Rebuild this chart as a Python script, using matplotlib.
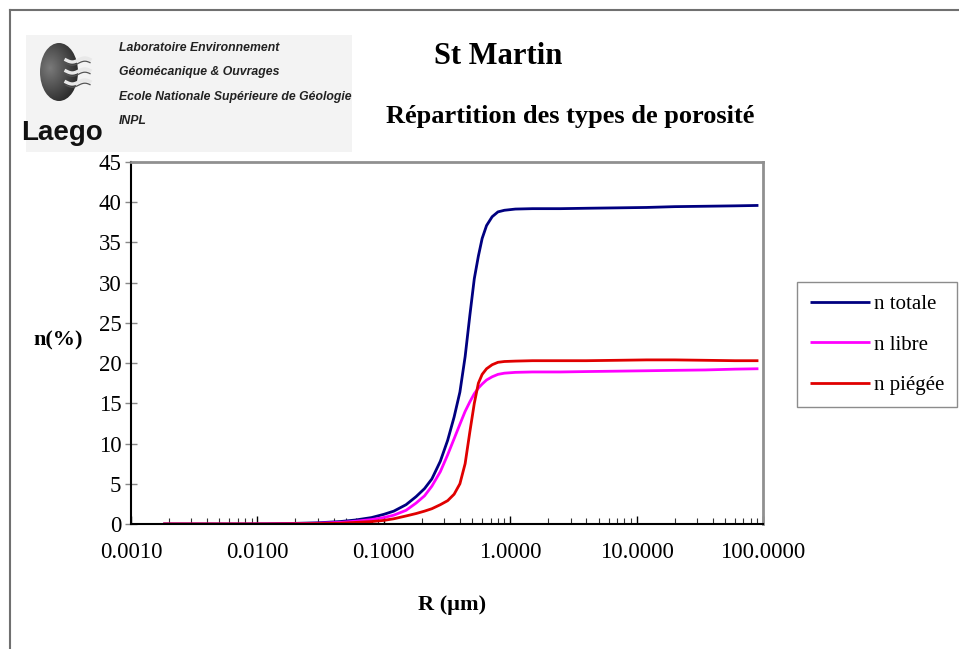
"""
St Martin - repartition des types de porosite (n totale / libre / piegee vs R).
"""
import numpy as np
import matplotlib.pyplot as plt
from matplotlib.patches import Ellipse, Rectangle
from matplotlib.ticker import LogLocator, FixedLocator, FixedFormatter, NullFormatter

# ---------------------------------------------------------------------------
# Data
# ---------------------------------------------------------------------------
r_um = [0.0018, 0.003, 0.005, 0.008, 0.012, 0.02, 0.03, 0.045, 0.06, 0.08,
        0.1, 0.12, 0.15, 0.18, 0.21, 0.24, 0.28, 0.32, 0.36, 0.40,
        0.44, 0.48, 0.52, 0.56, 0.60, 0.65, 0.72, 0.80, 0.9, 1.1,
        1.5, 2.5, 4, 7, 12, 20, 35, 60, 92]

n_totale = [0, 0, 0, 0, 0.02, 0.08, 0.15, 0.3, 0.5, 0.8,
            1.2, 1.6, 2.4, 3.4, 4.4, 5.6, 7.8, 10.4, 13.3, 16.4,
            20.8, 26.0, 30.5, 33.3, 35.5, 37.1, 38.2, 38.8, 39.0, 39.15,
            39.2, 39.2, 39.25, 39.3, 39.35, 39.45, 39.5, 39.55, 39.6]

n_libre = [0, 0, 0, 0, 0.01, 0.05, 0.1, 0.2, 0.35, 0.55,
           0.8, 1.1, 1.7, 2.6, 3.5, 4.7, 6.5, 8.6, 10.6, 12.4,
           14.0, 15.2, 16.2, 16.9, 17.4, 17.9, 18.3, 18.6, 18.75, 18.85,
           18.9, 18.9, 18.95, 19.0, 19.05, 19.1, 19.15, 19.25, 19.3]

n_piegee = [0, 0, 0, 0, 0, 0.02, 0.05, 0.1, 0.2, 0.3,
            0.45, 0.65, 1.0, 1.3, 1.6, 1.9, 2.4, 2.9, 3.7, 5.0,
            7.5, 11.5, 15.0, 17.5, 18.6, 19.3, 19.8, 20.1, 20.2, 20.25,
            20.3, 20.3, 20.3, 20.35, 20.4, 20.4, 20.35, 20.3, 20.3]

series_names = ["n totale", "n libre", "n piégée"]
series_colors = ["#000080", "#FF00FF", "#E00000"]

x_ticks = [0.001, 0.01, 0.1, 1, 10, 100]
x_ticklabels = ["0.0010", "0.0100", "0.1000", "1.0000", "10.0000", "100.0000"]
y_ticks = list(range(0, 46, 5))

logo_lines = ["Laboratoire Environnement", "Géomécanique & Ouvrages",
              "Ecole Nationale Supérieure de Géologie", "INPL"]

# ---------------------------------------------------------------------------
# Figure
# ---------------------------------------------------------------------------
W, H = 959, 649
fig = plt.figure(figsize=(W / 100, H / 100), dpi=100)
SERIF = ["Liberation Serif", "DejaVu Serif"]
NARROW = ["Liberation Sans Narrow", "DejaVu Sans Condensed", "Liberation Sans"]


def fx(x):
    return x / W


def fy(y):
    return 1 - y / H


# page frame (left and top edges only visible)
fig.add_artist(plt.Line2D([fx(10), fx(10)], [fy(10), 0], color="#707070", lw=1.5))
fig.add_artist(plt.Line2D([fx(10), 1], [fy(10), fy(10)], color="#707070", lw=1.5))

# logo block, drawn in its own pixel-coordinate axes
lax = fig.add_axes([fx(26), fy(152), fx(352 - 26), (152 - 35) / H])
lax.set_xlim(26, 352)
lax.set_ylim(152, 35)
lax.axis("off")
lax.add_patch(Rectangle((26, 35), 326, 117, facecolor="#f3f3f3", edgecolor="none", zorder=0))
gx, gy = np.meshgrid(np.linspace(36, 84, 120), np.linspace(40, 104, 160))
d = np.sqrt(((gx - 50) / 34) ** 2 + ((gy - 68) / 44) ** 2)
shade = 0.48 - 0.36 * np.clip(d, 0, 1)
img = lax.imshow(shade, extent=(36, 84, 104, 40), cmap="gray", vmin=0, vmax=1,
                 aspect="auto", origin="upper", zorder=1)
sphere = Ellipse((59, 72), 38, 58, facecolor="none", edgecolor="none")
lax.add_patch(sphere)
img.set_clip_path(sphere)
for yy in [60, 71, 82]:
    xs = np.linspace(66, 90, 30)
    lax.plot(xs, yy + 2.0 * np.sin((xs - 66) / 4.0), color="#e8e8e8", lw=2.4, zorder=2)
    lax.plot(xs, yy + 3.2 + 2.0 * np.sin((xs - 66) / 4.0), color="#555555", lw=0.9, zorder=2)
lax.text(62, 133, "Laego", family=NARROW, fontweight="bold", fontsize=20,
         ha="center", va="center", color="#111111", zorder=3)

for i, line in enumerate(logo_lines):
    lax.text(119, 48 + 24.5 * i, line, family=NARROW, fontweight="bold",
             style="italic", fontsize=8.8, ha="left", va="center", color="#222222", zorder=3)

# titles
fig.text(fx(498), fy(57), "St Martin", family=SERIF, fontweight="bold", fontsize=22,
         ha="center", va="center")
fig.text(fx(570), fy(116), "Répartition des types de porosité", family=SERIF,
         fontweight="bold", fontsize=19, ha="center", va="center")

# main axes
ax = fig.add_axes([fx(131), fy(524), (763 - 131) / W, (524 - 162) / H])
for y, name, col in zip([n_totale, n_libre, n_piegee], series_names, series_colors):
    ax.plot(r_um, y, color=col, lw=2.0, label=name, solid_capstyle="butt")

ax.set_xscale("log")
ax.set_xlim(0.001, 100)
ax.set_ylim(0, 45)
ax.xaxis.set_major_locator(FixedLocator(x_ticks))
ax.xaxis.set_major_formatter(FixedFormatter(x_ticklabels))
ax.xaxis.set_minor_locator(LogLocator(base=10, subs=np.arange(2, 10), numticks=20))
ax.xaxis.set_minor_formatter(NullFormatter())
ax.set_yticks(y_ticks)

ax.tick_params(axis="x", which="major", direction="in", length=6, width=1.0,
               color="black", pad=13, labelsize=16.5)
ax.tick_params(axis="x", which="minor", direction="in", length=4, width=0.8, color="#333333")
ax.tick_params(axis="y", direction="inout", length=8, width=1.0, color="#888888",
               pad=3, labelsize=16.5)
for lab in ax.get_xticklabels() + ax.get_yticklabels():
    lab.set_family(SERIF)

ax.spines["left"].set_color("black")
ax.spines["bottom"].set_color("black")
ax.spines["left"].set_linewidth(1.5)
ax.spines["bottom"].set_linewidth(1.5)
ax.spines["top"].set_color("#909090")
ax.spines["right"].set_color("#909090")
ax.spines["top"].set_linewidth(2.0)
ax.spines["right"].set_linewidth(2.0)

fig.text(fx(58), fy(340), "n(%)", family=SERIF, fontweight="bold", fontsize=16,
         ha="center", va="center")
fig.text(fx(452), fy(605), "R (µm)", family=SERIF, fontweight="bold", fontsize=16,
         ha="center", va="center")

leg = fig.legend(loc="upper left", bbox_to_anchor=(fx(797), fy(282)),
                 prop={"family": SERIF, "size": 15}, frameon=True, fancybox=False,
                 edgecolor="#707070", handlelength=2.9, handletextpad=0.2,
                 labelspacing=1.0, borderpad=0.6, borderaxespad=0)
leg.get_frame().set_linewidth(1.0)

plt.savefig("out.png", dpi=100)
